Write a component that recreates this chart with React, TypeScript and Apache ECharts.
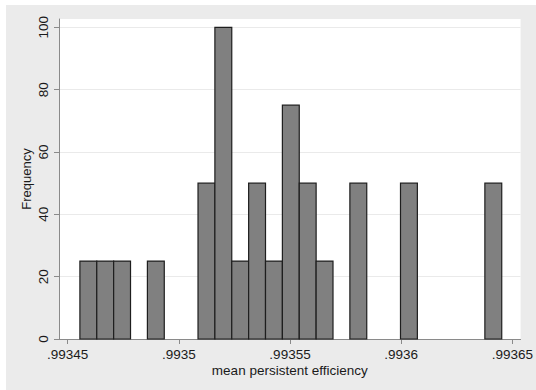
import React, { useEffect, useRef } from "react";
import * as echarts from "echarts";

// Histogram bins (Stata-style): first bin edge, bin width, frequency per bin
const binStart = 0.9934555;
const binWidth = 0.000007589;
const counts = [25, 25, 25, 0, 25, 0, 0, 50, 100, 25, 50, 25, 75, 50, 25, 0, 50, 0, 0, 50, 0, 0, 0, 0, 50];

const xTicks = [0.99345, 0.9935, 0.99355, 0.9936, 0.99365];
const yTicks = [0, 20, 40, 60, 80, 100];
const xMin = 0.9934461;
const xMax = 0.9936537;
const yMax = 102.66;

const xTitle = "mean persistent efficiency";
const yTitle = "Frequency";

export default function App() {
  const ref = useRef<HTMLDivElement>(null);

  useEffect(() => {
    if (!ref.current) return;
    const chart = echarts.init(ref.current, undefined, { renderer: "svg" });

    const bins = counts
      .map((c, i) => [binStart + i * binWidth, binStart + (i + 1) * binWidth, c])
      .filter((d) => d[2] > 0);

    const font = "'Liberation Sans', Arial, sans-serif";
    const fmtX = (v: number) => {
      const s = Number(v.toFixed(6)).toString();
      return s.replace(/^0\./, ".");
    };

    chart.setOption({
      animation: false,
      backgroundColor: "transparent",
      grid: {
        left: 59,
        top: 19,
        right: 12,
        bottom: 51,
        show: true,
        backgroundColor: "#ffffff",
        borderWidth: 0,
      },
      xAxis: {
        type: "value",
        min: xMin,
        max: xMax,
        name: xTitle,
        nameLocation: "middle",
        nameGap: 24,
        nameMoveOverlap: false,
        nameTextStyle: { fontFamily: font, fontSize: 13.5, color: "#1a1a1a" },
        axisLine: { show: true, onZero: false, lineStyle: { color: "#8a8a8a", width: 1 } },
        axisTick: { show: true, length: 5, customValues: xTicks, lineStyle: { color: "#8a8a8a" } },
        axisLabel: {
          show: true,
          customValues: xTicks,
          margin: 8,
          formatter: (v: number) => fmtX(v),
          fontFamily: font,
          fontSize: 13.5,
          color: "#1a1a1a",
          showMinLabel: true,
          showMaxLabel: true,
        },
        splitLine: { show: false },
      },
      yAxis: {
        type: "value",
        min: 0,
        max: yMax,
        interval: 20,
        name: yTitle,
        nameLocation: "middle",
        nameRotate: 90,
        nameGap: 26,
        nameMoveOverlap: false,
        nameTextStyle: { fontFamily: font, fontSize: 13, color: "#1a1a1a" },
        axisLine: { show: true, lineStyle: { color: "#8a8a8a", width: 1 } },
        axisTick: { show: true, length: 5, customValues: yTicks, lineStyle: { color: "#8a8a8a" } },
        axisLabel: {
          show: true,
          customValues: yTicks,
          rotate: 90,
          margin: 9,
          fontFamily: font,
          fontSize: 13.5,
          color: "#1a1a1a",
        },
        splitLine: { show: true, lineStyle: { color: "#eaeaea", width: 1 } },
      },
      series: [
        {
          type: "custom",
          data: bins,
          encode: { x: [0, 1], y: 2 },
          renderItem: (params: any, api: any) => {
            const x0 = api.value(0);
            const x1 = api.value(1);
            const y = api.value(2);
            const p0 = api.coord([x0, y]);
            const p1 = api.coord([x1, 0]);
            return {
              type: "rect",
              shape: { x: p0[0], y: p0[1], width: p1[0] - p0[0], height: p1[1] - p0[1] },
              style: { fill: "#808080", stroke: "#1e1e1e", lineWidth: 1.2 },
            };
          },
        },
      ],
    });

    return () => chart.dispose();
  }, []);

  return (
    <div style={{ position: "absolute", left: 0, top: 0, width: 536, height: 390, background: "#ffffff" }}>
      <div style={{ position: "absolute", left: 6, top: 5, right: 0, bottom: 0, background: "#ebebeb" }} />
      <div ref={ref} style={{ position: "absolute", left: 0, top: 0, width: 536, height: 390 }} />
    </div>
  );
}
